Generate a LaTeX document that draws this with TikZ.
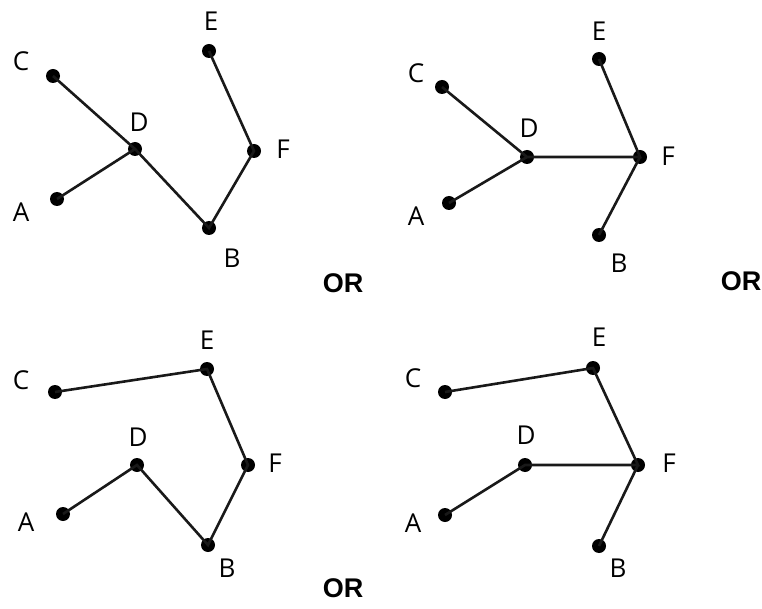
\documentclass[tikz,border=0pt]{standalone}
\usepackage{fontspec}
\setmainfont{Open Sans}
\newfontfamily\orfont{Liberation Sans}
\begin{document}
\begin{tikzpicture}[x=1pt,y=-1pt,
  vtx/.style={circle,fill=black,inner sep=0pt,minimum size=14pt},
  lbl/.style={font=\fontsize{26}{26}\selectfont,inner sep=0pt},
  ortext/.style={font=\orfont\bfseries\fontsize{27}{27}\selectfont,inner sep=0pt},
  edge/.style={line width=2.6pt,black!90}]
\useasboundingbox (0,0) rectangle (762,609);
% Panel 1
\node[vtx] (C1) at (53,76) {};
\node[vtx] (E1) at (209,51) {};
\node[vtx] (D1) at (135,149) {};
\node[vtx] (F1) at (254,151) {};
\node[vtx] (A1) at (57,199) {};
\node[vtx] (B1) at (209,228) {};
\node[lbl] (lC1) at (21,61) {C};
\node[lbl] (lE1) at (211,21) {E};
\node[lbl] (lD1) at (139,122) {D};
\node[lbl] (lF1) at (283,149) {F};
\node[lbl] (lA1) at (21,212) {A};
\node[lbl] (lB1) at (232,258) {B};
\node[ortext] (or1) at (343,283) {OR};
\draw[edge] (C1.center) -- (D1.center) -- (B1.center) -- (F1.center) -- (E1.center);
\draw[edge] (A1.center) -- (D1.center);
% Panel 2
\node[vtx] (C2) at (442,87) {};
\node[vtx] (E2) at (599,59) {};
\node[vtx] (D2) at (527,157) {};
\node[vtx] (F2) at (640,157) {};
\node[vtx] (A2) at (449,203) {};
\node[vtx] (B2) at (599,235) {};
\node[lbl] (lC2) at (416,73) {C};
\node[lbl] (lE2) at (599,31) {E};
\node[lbl] (lD2) at (529,128) {D};
\node[lbl] (lF2) at (668,156) {F};
\node[lbl] (lA2) at (416,216) {A};
\node[lbl] (lB2) at (619,263) {B};
\node[ortext] (or2) at (741,281) {OR};
\draw[edge] (C2.center) -- (D2.center) -- (F2.center) -- (E2.center);
\draw[edge] (A2.center) -- (D2.center);
\draw[edge] (B2.center) -- (F2.center);
% Panel 3
\node[vtx] (C3) at (55,392) {};
\node[vtx] (E3) at (207,369) {};
\node[vtx] (D3) at (137,465) {};
\node[vtx] (F3) at (248,465) {};
\node[vtx] (A3) at (63,514) {};
\node[vtx] (B3) at (208,545) {};
\node[lbl] (lC3) at (21,380) {C};
\node[lbl] (lE3) at (207,340) {E};
\node[lbl] (lD3) at (138,437) {D};
\node[lbl] (lF3) at (275,463) {F};
\node[lbl] (lA3) at (26,522) {A};
\node[lbl] (lB3) at (227,568) {B};
\node[ortext] (or3) at (343,588) {OR};
\draw[edge] (C3.center) -- (E3.center) -- (F3.center) -- (B3.center) -- (D3.center) -- (A3.center);
% Panel 4
\node[vtx] (C4) at (445,392) {};
\node[vtx] (E4) at (593,368) {};
\node[vtx] (D4) at (525,465) {};
\node[vtx] (F4) at (638,465) {};
\node[vtx] (A4) at (445,515) {};
\node[vtx] (B4) at (599,546) {};
\node[lbl] (lC4) at (413,378) {C};
\node[lbl] (lE4) at (599,337) {E};
\node[lbl] (lD4) at (526,435) {D};
\node[lbl] (lF4) at (669,463) {F};
\node[lbl] (lA4) at (413,523) {A};
\node[lbl] (lB4) at (618,568) {B};
\draw[edge] (C4.center) -- (E4.center) -- (F4.center) -- (D4.center) -- (A4.center);
\draw[edge] (B4.center) -- (F4.center);
\end{tikzpicture}
\end{document}
